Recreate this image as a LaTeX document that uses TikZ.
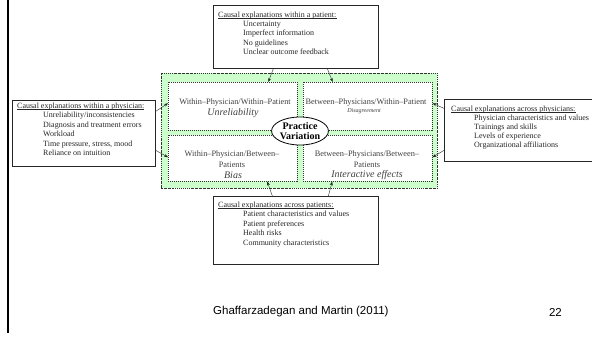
\documentclass[tikz,border=0pt]{standalone}
\usepackage{fontspec}
\setmainfont{Liberation Serif}
\newfontfamily\footfont{Liberation Sans}
\usetikzlibrary{arrows.meta,shapes.geometric}
\definecolor{lgreen}{HTML}{CCFFCC}
\begin{document}
\begin{tikzpicture}[x=1pt,y=-1pt,
 cbox/.style={draw=black!85, line width=0.7pt, fill=white, anchor=north west, inner sep=0},
 ctext/.style={anchor=base west, inner sep=0, font=\fontsize{8}{9.4}\selectfont, text=black!85},
 uline/.style={line width=0.4pt, black!85},
 ibox/.style={draw=black!80, dash pattern=on 1pt off 1pt, fill=white, line width=0.5pt, anchor=north west, inner sep=0, minimum width=129pt},
 itext/.style={inner sep=0, font=\fontsize{8.3}{10}\selectfont, text=black!75},
 iemph/.style={inner sep=0, font=\fontsize{10}{12}\selectfont\itshape, text=black!75},
 arr/.style={-{Stealth[length=4pt,width=3pt]}, line width=0.4pt, black!85}]
\useasboundingbox (0,0) rectangle (592,338);
\fill[white] (0,0) rectangle (592,338);
\draw[line width=2.4pt] (8,0) -- (8,333);

% green region
\node[draw=black!80, dash pattern=on 1.5pt off 1pt on 0.4pt off 1pt, line width=0.5pt, fill=lgreen, minimum width=276pt, minimum height=115pt, anchor=north west, inner sep=0] (pv) at (161,73) {};
\node[ibox, minimum height=48pt] (tl) at (168,82) {};
\node[ibox, minimum height=48pt] (tr) at (303,82) {};
\node[ibox, minimum height=46pt] (bl) at (168,135) {};
\node[ibox, minimum height=46pt] (br) at (303,135) {};

\node[itext] (tl1) at (235,103) {Within–Physician/Within–Patient};
\node[iemph] (tl2) at (233,113.5) {Unreliability};
\node[itext] (tr1) at (366,102.5) {Between–Physicians/Within–Patient};
\node[inner sep=0, font=\fontsize{6}{7}\selectfont\itshape, text=black!75] (tr2) at (364,111.5) {Disagreement};
\node[itext] (bl1) at (232,155) {Within–Physician/Between–};
\node[itext] (bl2) at (232,165) {Patients};
\node[iemph] (bl3) at (233,175.5) {Bias};
\node[itext] (br1) at (367,155) {Between–Physicians/Between–};
\node[itext] (br2) at (367,165) {Patients};
\node[iemph] (br3) at (367,175.5) {Interactive effects};

\node[ellipse, draw, line width=0.8pt, fill=white, minimum width=54pt, minimum height=28pt, inner sep=0, align=center, font=\fontsize{10}{10.5}\selectfont\bfseries] (pvc) at (300,131) {Practice\\Variation};

% explanation boxes
\node[cbox, minimum width=165pt, minimum height=63pt] (top) at (213,5) {};
\node[ctext] (topt) at (218,17) {Causal explanations within a patient:};
\draw[uline] ([yshift=-0.9pt]topt.base west) -- ([yshift=-0.9pt]topt.base east);
\foreach \t [count=\i] in {Uncertainty, Imperfect information, No guidelines, Unclear outcome feedback}
  \node[ctext] (top\i) at (243,17.5+9.2*\i) {\t};

\node[cbox, minimum width=143pt, minimum height=66pt] (left) at (12,100) {};
\node[ctext] (leftt) at (17,108) {Causal explanations within a physician:};
\draw[uline] ([yshift=-0.9pt]leftt.base west) -- ([yshift=-0.9pt]leftt.base east);
\foreach \t [count=\i] in {Unreliability/inconsistencies, Diagnosis and treatment errors, Workload, {Time pressure, stress, mood}, Reliance on intuition}
  \node[ctext] (left\i) at (43,108.5+9.4*\i) {\t};

\node[cbox, minimum width=160pt, minimum height=62pt] (right) at (444,99) {};
\node[ctext] (rightt) at (451,111) {Causal explanations across physicians:};
\draw[uline] ([yshift=-0.9pt]rightt.base west) -- ([yshift=-0.9pt]rightt.base east);
\foreach \t [count=\i] in {Physician characteristics and values, Trainings and skills, Levels of experience, Organizational affiliations}
  \node[ctext] (right\i) at (474,111.5+9.1*\i) {\t};

\node[cbox, minimum width=165pt, minimum height=68pt] (bot) at (213,196) {};
\node[ctext] (bott) at (218,207) {Causal explanations across patients:};
\draw[uline] ([yshift=-0.9pt]bott.base west) -- ([yshift=-0.9pt]bott.base east);
\foreach \t [count=\i] in {Patient characteristics and values, Patient preferences, Health risks, Community characteristics}
  \node[ctext] (bot\i) at (243,207.5+9.4*\i) {\t};

% arrows
\draw[arr] ([xshift=-22.5pt]top.south) -- ([xshift=35.5pt]tl.north);
\draw[arr] ([xshift=31.5pt]top.south) -- ([xshift=-35pt]tr.north);
\draw[arr] ([yshift=22pt]left.east) -- ([yshift=3pt]tl.west);
\draw[arr] ([yshift=-17pt]left.east) -- ([yshift=1pt]bl.west);
\draw[arr] ([yshift=22pt]right.west) -- ([yshift=3pt]tr.east);
\draw[arr] ([yshift=-20pt]right.west) -- ([yshift=1pt]br.east);
\draw[arr] ([xshift=-23.5pt]bot.north) -- ([xshift=34.5pt]bl.south);
\draw[arr] ([xshift=32.5pt]bot.north) -- ([xshift=-35.5pt]br.south);

% footer
\node[anchor=west, inner sep=0, font=\footfont\fontsize{11.5}{13}\selectfont] (cite) at (213,312) {Ghaffarzadegan and Martin (2011)};
\node[anchor=east, inner sep=0, font=\footfont\fontsize{11.5}{13}\selectfont] (pg) at (562,312) {22};
\end{tikzpicture}
\end{document}
